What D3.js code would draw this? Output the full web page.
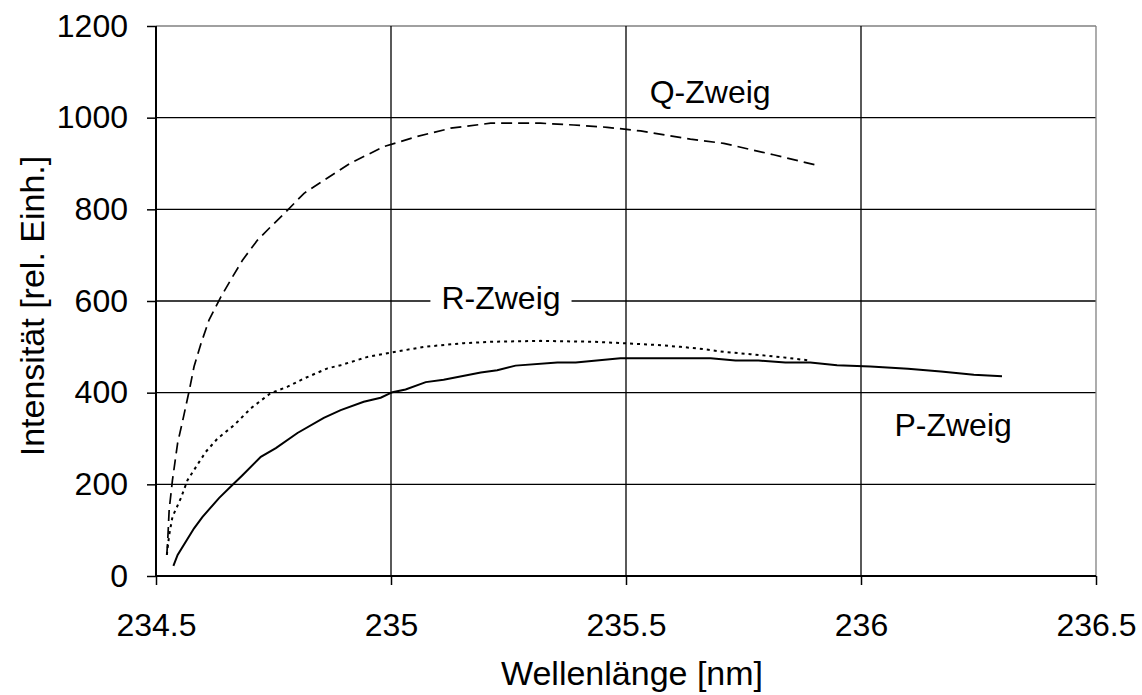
<!DOCTYPE html>
<html>
<head>
<meta charset="utf-8">
<script src="https://cdn.jsdelivr.net/npm/d3@7"></script>
<style>
  html, body { margin: 0; padding: 0; background: #fff; }
  svg { display: block; font-family: "Liberation Sans", Arial, sans-serif; }
</style>
</head>
<body>
<svg id="chart" width="1142" height="695"></svg>
<script>
// ---- data ----
const xTicks = [234.5, 235, 235.5, 236, 236.5];
const xTickLabels = ["234.5", "235", "235.5", "236", "236.5"];
const yTicks = [0, 200, 400, 600, 800, 1000, 1200];
const yTickLabels = ["0", "200", "400", "600", "800", "1000", "1200"];

const pWave = [234.537,234.546,234.581,234.599,234.634,234.663,234.684,234.723,234.755,234.801,234.857,234.893,234.942,234.978,235.003,235.031,235.074,235.112,235.191,235.226,235.265,235.354,235.393,235.488,235.680,235.733,235.782,235.839,235.892,235.949,236.02,236.1,236.17,236.24,236.3];
const pInt  = [22,46,104,129,170,199,220,260,279,312,345,362,380,389,401,407,423,428,444,449,459,466,466,475,475,470,470,466,466,460,457,452,446,439,436];

const qWave = [234.523,234.525,234.528,234.535,234.546,234.557,234.571,234.581,234.596,234.613,234.638,234.659,234.684,234.716,234.744,234.773,234.815,234.858,234.914,234.985,235.056,235.127,235.212,235.318,235.389,235.460,235.531,235.637,235.708,235.814,235.903];
const qInt  = [46,79,144,209,290,340,406,457,508,559,609,646,689,733,762,791,835,864,901,937,959,977,988,988,984,979,971,953,944,919,897];

const rWave = [234.523,234.528,234.535,234.553,234.567,234.592,234.606,234.631,234.666,234.702,234.744,234.780,234.815,234.865,234.893,234.950,234.992,235.070,235.155,235.212,235.318,235.432,235.495,235.566,235.616,235.665,235.708,235.765,235.835,235.892];
const rInt  = [46,89,129,170,209,249,271,300,329,366,399,413,431,453,460,478,486,500,508,511,513,511,508,504,500,495,489,484,477,470];

const seriesLabels = ["Q-Zweig", "R-Zweig", "P-Zweig"];
const xTitle = "Wellenlänge [nm]";
const yTitle = "Intensität [rel. Einh.]";

// ---- layout ----
const mLeft = 156, mRight = 1096, mTop = 26, mBottom = 576;
const fs = 32, fsTitle = 34;
const svg = d3.select("#chart");
const x = d3.scaleLinear().domain([234.5, 236.5]).range([mLeft, mRight]);
const y = d3.scaleLinear().domain([0, 1200]).range([mBottom, mTop]);

// gridlines
const g = svg.append("g");
g.selectAll("line.hg").data(yTicks.filter(d => d > 0)).enter().append("line")
  .attr("x1", mLeft).attr("x2", mRight)
  .attr("y1", d => y(d)).attr("y2", d => y(d))
  .attr("stroke", d => d === 1200 ? "#808080" : "#000").attr("stroke-width", 1.3);
g.selectAll("line.vg").data(xTicks.filter(d => d > 234.5)).enter().append("line")
  .attr("x1", d => x(d)).attr("x2", d => x(d))
  .attr("y1", mTop).attr("y2", mBottom)
  .attr("stroke", d => d === 236.5 ? "#808080" : "#000").attr("stroke-width", 1.3);

// axes
const xAxis = d3.axisBottom(x).tickValues(xTicks).tickFormat((d, i) => xTickLabels[i]).tickSize(9).tickPadding(28);
const yAxis = d3.axisLeft(y).tickValues(yTicks).tickFormat((d, i) => yTickLabels[i]).tickSize(9).tickPadding(19);
const gx = svg.append("g").attr("transform", `translate(0,${mBottom})`).call(xAxis);
const gy = svg.append("g").attr("transform", `translate(${mLeft},0)`).call(yAxis);
[gx, gy].forEach(a => {
  a.select(".domain").attr("stroke", "#000").attr("stroke-width", 2);
  a.selectAll(".tick line").attr("stroke", "#000").attr("stroke-width", 1.5);
  a.selectAll(".tick text").attr("fill", "#000").style("font-size", fs + "px").style("font-family", "'Liberation Sans', Arial, sans-serif");
});
gx.select(".domain").attr("d", `M${mLeft},0H${mRight}`);
gy.select(".domain").attr("d", `M0,${mBottom}V${mTop}`);

// lines
const line = d3.line().x(d => x(d[0])).y(d => y(d[1]));
const zip = (a, b) => a.map((v, i) => [v, b[i]]);
svg.append("path").datum(zip(qWave, qInt)).attr("d", line)
  .attr("fill", "none").attr("stroke", "#000").attr("stroke-width", 1.7).attr("stroke-dasharray", "11,6");
svg.append("path").datum(zip(rWave, rInt)).attr("d", line)
  .attr("fill", "none").attr("stroke", "#000").attr("stroke-width", 2).attr("stroke-dasharray", "3,4");
svg.append("path").datum(zip(pWave, pInt)).attr("d", line)
  .attr("fill", "none").attr("stroke", "#000").attr("stroke-width", 2);

// series labels
const labelPos = [[235.679, 1033], [235.234, 582], [236.196, 305]];
labelPos.forEach((p, i) => {
  const lg = svg.append("g");
  const bg = lg.append("rect").attr("fill", "#fff");
  const t = lg.append("text").attr("x", x(p[0])).attr("y", y(p[1]))
    .attr("text-anchor", "middle").style("font-size", fs + "px").attr("fill", "#000")
    .text(seriesLabels[i]);
  const bb = t.node().getBBox();
  bg.attr("x", bb.x - 11).attr("y", bb.y).attr("width", bb.width + 22).attr("height", bb.height);
});

// titles
svg.append("text").attr("x", 632).attr("y", 685).attr("text-anchor", "middle")
  .style("font-size", fsTitle + "px").attr("fill", "#000").text(xTitle);
svg.append("text").attr("transform", `translate(44,306) rotate(-90)`).attr("text-anchor", "middle")
  .style("font-size", fsTitle + "px").attr("fill", "#000").text(yTitle);
</script>
</body>
</html>
